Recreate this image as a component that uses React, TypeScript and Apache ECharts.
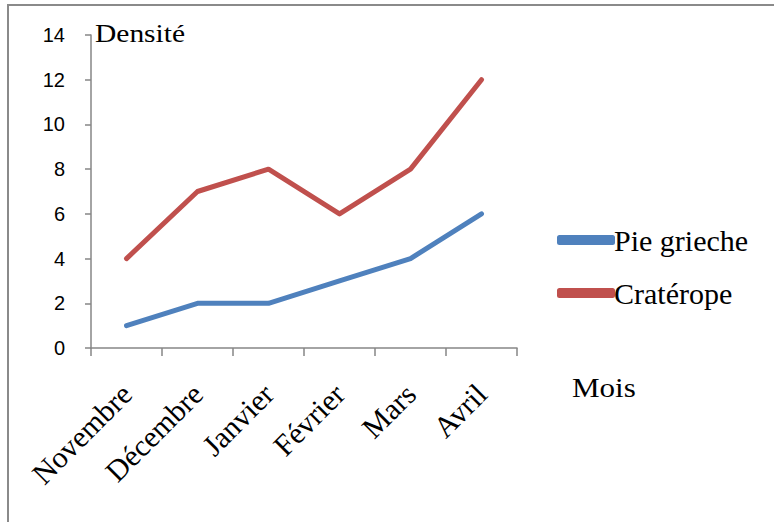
import React, { useEffect, useRef } from "react";
import * as echarts from "echarts";

const months = ["Novembre", "Décembre", "Janvier", "Février", "Mars", "Avril"];
const pieGrieche = [1, 2, 2, 3, 4, 6];
const craterope = [4, 7, 8, 6, 8, 12];
const yTicks = { min: 0, max: 14, interval: 2 };

const serif = "Liberation Serif";
const axisGrey = "#868686";

export default function App() {
  const ref = useRef<HTMLDivElement>(null);

  useEffect(() => {
    if (!ref.current) return;
    const chart = echarts.init(ref.current, null, { renderer: "svg" });
    chart.setOption({
      animation: false,
      backgroundColor: "#ffffff",
      grid: { left: 91, right: 257, top: 35, bottom: 174, containLabel: false },
      xAxis: {
        type: "category",
        data: months,
        boundaryGap: true,
        axisLine: { lineStyle: { color: axisGrey, width: 1.5 } },
        axisTick: { show: true, length: 8, alignWithLabel: false, lineStyle: { color: axisGrey, width: 1.5 } },
        axisLabel: {
          rotate: 45,
          margin: 41,
          color: "#000",
          fontFamily: serif,
          fontSize: 30,
          interval: 0,
        },
        splitLine: { show: false },
      },
      yAxis: {
        type: "value",
        min: yTicks.min,
        max: yTicks.max,
        interval: yTicks.interval,
        axisLine: { show: true, lineStyle: { color: axisGrey, width: 1.5 } },
        axisTick: { show: true, length: 6, lineStyle: { color: axisGrey, width: 1.5 } },
        axisLabel: { color: "#000", fontFamily: "Liberation Sans", fontSize: 20, margin: 26 },
        splitLine: { show: false },
      },
      legend: {
        orient: "vertical",
        left: 552,
        top: 220,
        itemWidth: 58,
        itemHeight: 10,
        itemGap: 23,
        textStyle: { fontFamily: serif, fontSize: 30, color: "#000", padding: [0, 0, 0, -6] },
        data: [
          { name: "Pie grieche", icon: "roundRect" },
          { name: "Cratérope", icon: "roundRect" },
        ],
      },
      graphic: [
        {
          type: "rect",
          shape: { x: 8, y: 5, width: 800, height: 560 },
          style: { fill: "none", stroke: "#8a8a8a", lineWidth: 2 },
          silent: true,
        },
        {
          type: "text",
          x: 95,
          y: 21,
          scaleX: 1.18,
          style: { text: "Densité", fontFamily: serif, fontSize: 25, fill: "#000" },
        },
        {
          type: "text",
          x: 572,
          y: 374,
          scaleX: 1.15,
          style: { text: "Mois", fontFamily: serif, fontSize: 27, fill: "#000" },
        },
      ],
      series: [
        {
          name: "Pie grieche",
          type: "line",
          data: pieGrieche,
          color: "#4F81BD",
          showSymbol: false,
          lineStyle: { width: 5, cap: "round", join: "round", color: "#4F81BD" },
          itemStyle: { color: "#4F81BD" },
        },
        {
          name: "Cratérope",
          type: "line",
          data: craterope,
          color: "#C0504D",
          showSymbol: false,
          lineStyle: { width: 5, cap: "round", join: "round", color: "#C0504D" },
          itemStyle: { color: "#C0504D" },
        },
      ],
    });
    return () => chart.dispose();
  }, []);

  return (
    <div
      ref={ref}
      style={{ position: "fixed", left: 0, top: 0, width: 774, height: 522 }}
    />
  );
}
